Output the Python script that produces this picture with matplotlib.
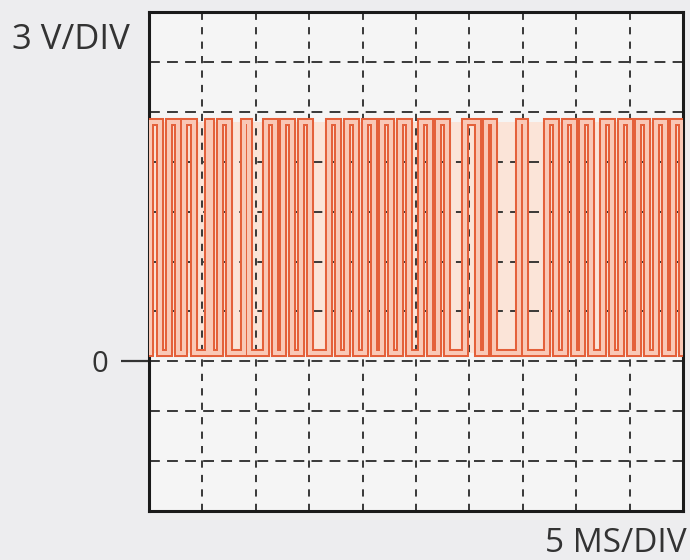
import matplotlib
matplotlib.use("Agg")
import matplotlib.pyplot as plt
import numpy as np

# Scope settings
volts_per_div = 3
ms_per_div = 5
n_xdiv = 10
y_div_min, y_div_max = -3, 7

# Logic levels of the captured PWM signal (volts)
v_low = 0.5
v_high = 14.4

# High pulses of the captured trace: rising and falling edge times (ms)
rise_ms = [0.10, 1.83, 3.32, 5.52, 6.65, 8.94, 11.00, 12.59, 14.23, 16.89,
           18.58, 20.26, 21.86, 23.54, 25.51, 27.10, 29.58, 31.54, 34.63,
           37.30, 38.98, 40.58, 42.54, 44.23, 45.82, 47.50, 49.09]
fall_ms = [1.05, 2.67, 4.17, 5.80, 7.49, 9.41, 11.84, 13.43, 15.07, 17.74,
           19.42, 21.11, 22.70, 24.38, 26.35, 27.94, 30.79, 32.29, 35.19,
           38.14, 39.83, 41.42, 43.38, 45.07, 46.66, 48.35, 49.94]

# Build the step trace from the edges
t = [0.0]
v = [v_low]
for r, f in zip(rise_ms, fall_ms):
    t += [r, r, f, f]
    v += [v_low, v_high, v_high, v_low]
t.append(n_xdiv * ms_per_div)
v.append(v_low)

fig = plt.figure(figsize=(6.9, 5.6), dpi=100, facecolor="#ededef")
ax = fig.add_axes([149 / 690, 49 / 560, (683 - 149) / 690, (511 - 12) / 560])
ax.set_facecolor("#f5f5f5")

xmax = n_xdiv * ms_per_div
ax.set_xlim(0, xmax)
ax.set_ylim(y_div_min * volts_per_div, y_div_max * volts_per_div)

# Faint tint behind the busy part of the trace
ax.fill_between([0, xmax], v_low, v_high, color="#fbe4d8", zorder=0.5,
                linewidth=0)

# Dashed graticule
x_grid = np.arange(1, n_xdiv) * ms_per_div
y_grid = np.arange(y_div_min + 1, y_div_max) * volts_per_div
ax.vlines(x_grid, *ax.get_ylim(), colors="#2a2a2a", linewidth=1.3,
          linestyles=(0, (4, 4)), zorder=1)
ax.hlines(y_grid, 0, xmax, colors="#2a2a2a", linewidth=1.3,
          linestyles=(0, (6, 4)), zorder=1)

# Trace: thick stroke with a light core, giving an outlined look
ax.plot(t, v, color="#e4603a", linewidth=5.8, solid_joinstyle="miter",
        zorder=3)
ax.plot(t, v, color="#f9c8b6", linewidth=2.9, solid_joinstyle="miter",
        zorder=4)

# Frame
for s in ax.spines.values():
    s.set_linewidth(2.2)
    s.set_color("#1a1a1a")

# Zero-volt marker on the left
ax.set_xticks([])
ax.set_yticks([0])
ax.set_yticklabels(["0"], fontsize=21, family="Open Sans", color="#333333")
ax.tick_params(axis="y", length=20, width=1.6, color="#333333", pad=9)

fig.text(12 / 690, 1 - 40 / 560, "3 V/DIV", fontsize=25, family="Open Sans",
         color="#333333", va="center", ha="left")
fig.text(687 / 690, 1 - 543 / 560, "5 MS/DIV", fontsize=24,
         family="Open Sans", color="#333333", va="center", ha="right")

fig.savefig("out.png", dpi=100, facecolor=fig.get_facecolor())
